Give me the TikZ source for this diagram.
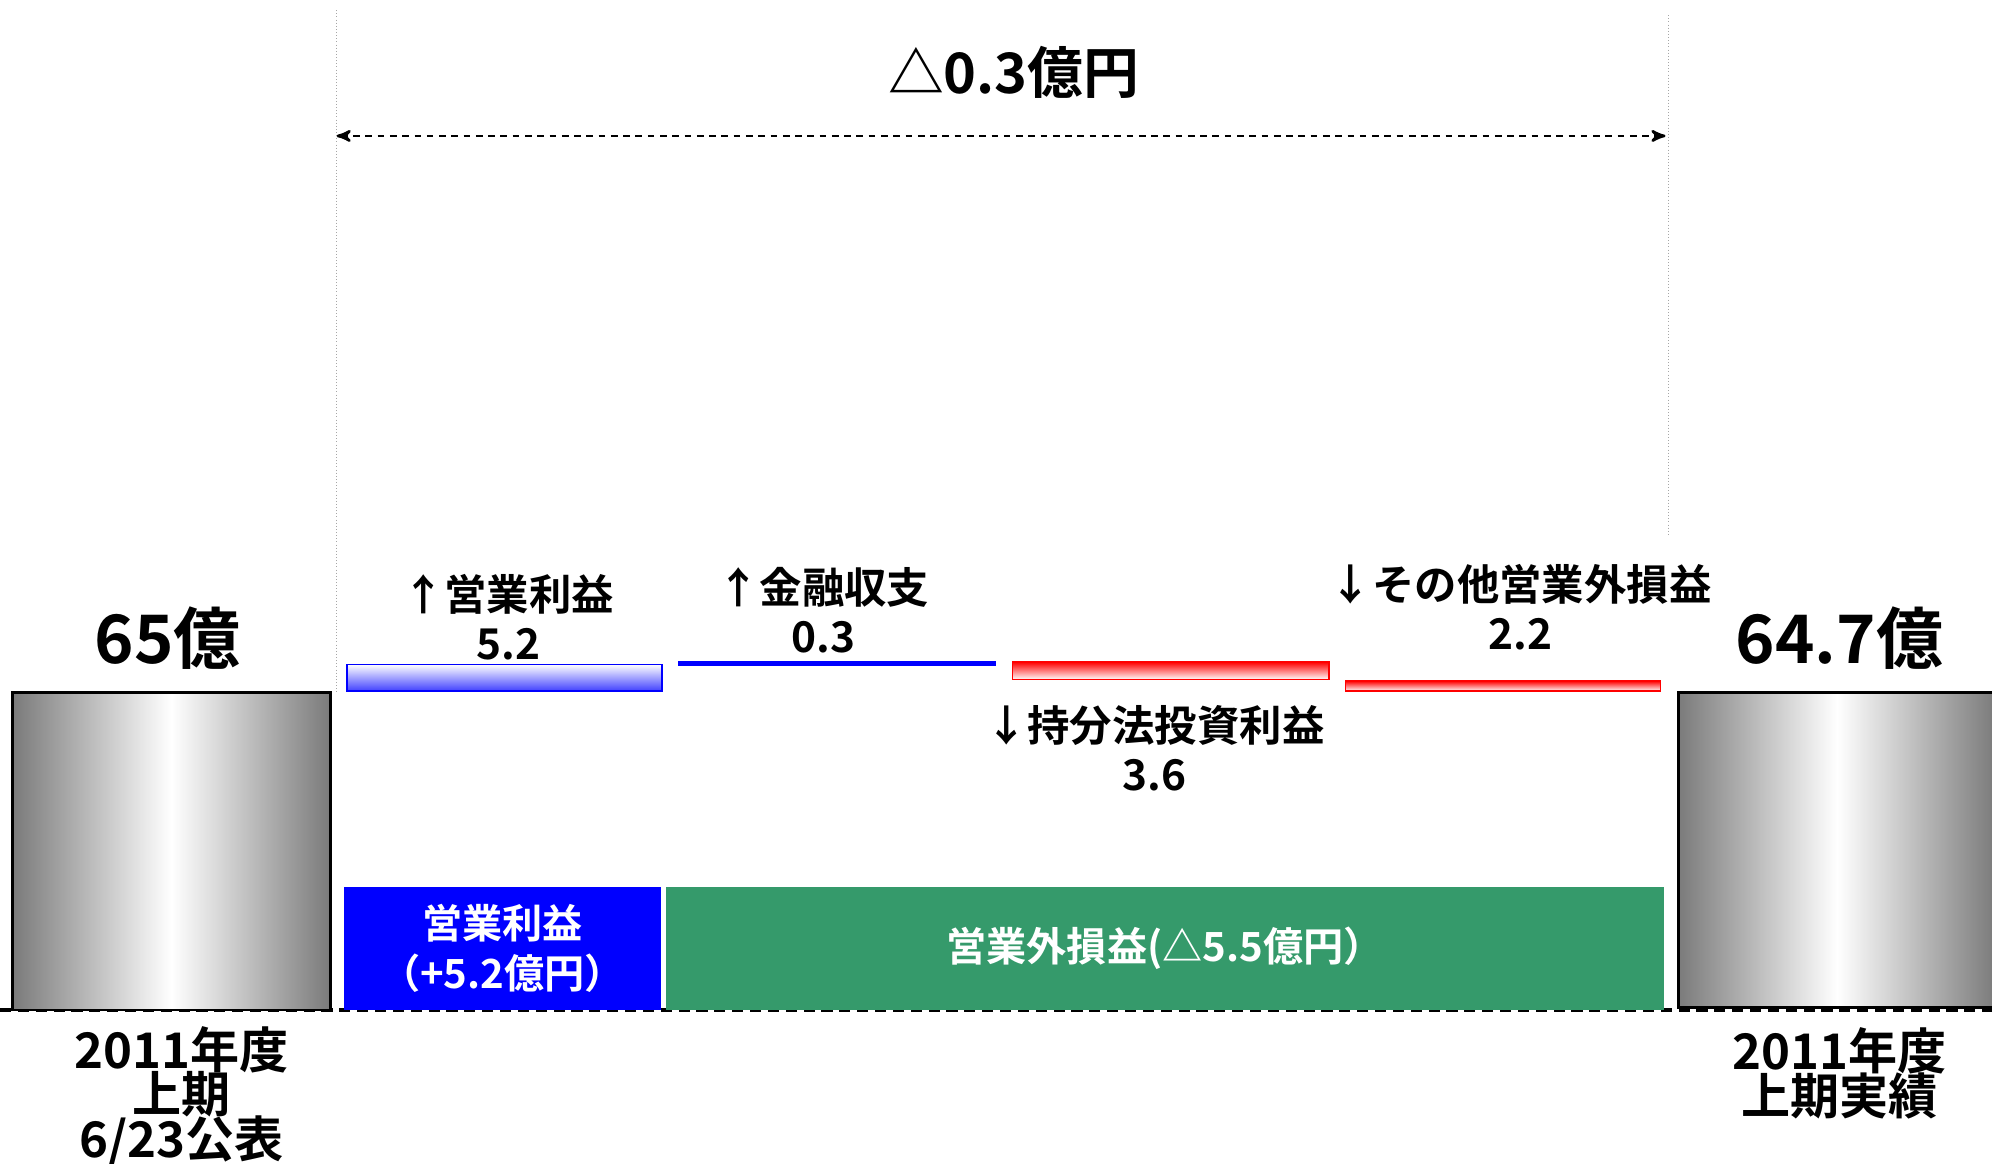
\documentclass[tikz,border=0pt]{standalone}
\usepackage{fontspec}
\setmainfont{Noto Sans CJK JP}[BoldFont={Noto Sans CJK JP Bold}]
\usetikzlibrary{arrows,positioning}
\definecolor{lossgreen}{RGB}{53,154,107}
\newcommand\tightlines{\lineskiplimit=-10pt\relax}
\tikzset{
bridge/.style={x=0.02cm,y=-0.02cm,>=stealth',semithick},
total/.style={rectangle,draw=black,line width=1.2pt,inner sep=0pt,
left color=black!52,right color=black!52,middle color=white,
minimum width=5cm,minimum height=#1},
total/.default={5cm},
step up/.style={rectangle,draw=blue,inner sep=0pt,top color=white,
bottom color=blue!75,minimum width=4.96cm,minimum height=#1},
step down/.style={rectangle,draw=red,inner sep=0pt,top color=red,
bottom color=white,minimum width=4.98cm,minimum height=#1},
part/.style={rectangle,inner sep=0pt,text=white,align=center,
font=\bfseries\fontsize{18}{22}\selectfont\tightlines,minimum height=1.94cm},
caption/.style={align=center,font=\bfseries\fontsize{19}{22}\selectfont\tightlines},
big/.style={font=\bfseries\fontsize{30}{34}\selectfont},
period/.style={align=center,font=\bfseries\fontsize{22}{20}\selectfont\tightlines},
guide/.style={gray!70,densely dotted,thin},
}

\begin{document}
\begin{tikzpicture}[bridge]
\useasboundingbox (0,0) rectangle (1568,916);
% baseline and guides
\draw[line width=1.5pt,dash pattern=on 5pt off 3pt] (0,795) -- (1568,795);
\coordinate (gl1) at (265,8);
\coordinate (gl2) at (265,545);
\coordinate (gr1) at (1313,12);
\coordinate (gr2) at (1313,422);
\draw[guide] (gl1) -- (gl2);
\draw[guide] (gr1) -- (gr2);
% totals
\node[total] (plan) at (135,670) {};
\node[total=4.96cm] (actual) at (1446,669) {};
\node[big] (planval) at (132,502) {65億};
\node[big] (actval) at (1448,502) {64.7億};
\node[period] (planlbl) at (143,863) {2011年度\\上期\\6/23公表};
\node[period] (actlbl) at (1448,845) {2011年度\\上期実績};
% steps
\node[step up=0.42cm] (s1) at (397,533.5) {};
\node[rectangle,fill=blue,inner sep=0pt,minimum width=5cm,minimum height=0.08cm] (s2) at (659,522) {};
\node[step down=0.28cm] (s3) at (921.5,528) {};
\node[step down=0.16cm,minimum width=4.96cm] (s4) at (1183,540) {};
\node[caption] (c1) at (400,486) {↑営業利益\\5.2};
\node[caption] (c2) at (648,480) {↑金融収支\\0.3};
\node[caption] (c3) at (909,589) {↓持分法投資利益\\3.6};
\node[caption] (c4) at (1197,478) {↓その他営業外損益\\2.2};
% breakdown
\node[part,fill=blue,minimum width=4.98cm] (op) at (395.5,746.5) {営業利益\\（+5.2億円）};
\node[part,fill=lossgreen,minimum width=15.72cm] (nonop) at (917,746.5) {営業外損益(△5.5億円）};
% difference
\coordinate (al) at (265,107);
\coordinate (ar) at (1311,107);
\draw[<->,line width=1.2pt,dash pattern=on 3pt off 2.5pt] (al) -- (ar);
\node[font=\bfseries\fontsize{25}{28}\selectfont] (diff) at (798,57) {△0.3億円};
\end{tikzpicture}
\end{document}
